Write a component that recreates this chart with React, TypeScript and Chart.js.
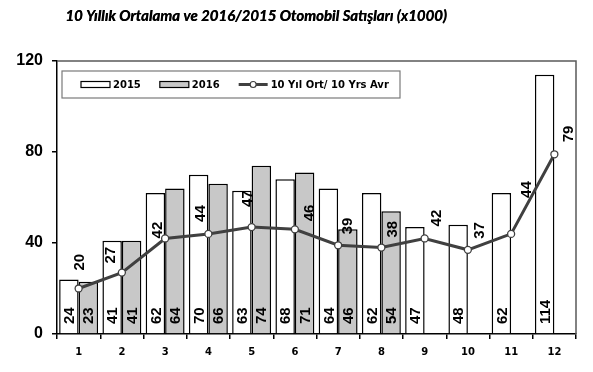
import React, { useEffect, useRef } from 'react';
import { Chart, registerables } from 'chart.js';

Chart.register(...registerables);

const TITLE = '10 Yıllık Ortalama ve 2016/2015 Otomobil Satışları (x1000)';
const months = ['1', '2', '3', '4', '5', '6', '7', '8', '9', '10', '11', '12'];
const sales2015 = [24, 41, 62, 70, 63, 68, 64, 62, 47, 48, 62, 114];
const sales2016: (number | null)[] = [23, 41, 64, 66, 74, 71, 46, 54, null, null, null, null];
const avg10 = [20, 27, 42, 44, 47, 46, 39, 38, 42, 37, 44, 79];
const yTickValues = [0, 40, 80, 120];
const LABEL_2015 = '2015';
const LABEL_2016 = '2016';
const LABEL_AVG = '10 Yıl Ort/ 10 Yrs Avr';

// label placement offsets (style only) for the average-line values
const avgLabelDx = [0, -12, -8, -9, -5, 14, 9, 10, 11, 11, 15, 13];
const avgLabelDy = [-18, -9, 0, -12, -20, -8, -11, -10, -12, -11, -36, -12];

const LINE_COLOR = '#404040';
const GRAY_FILL = '#c8c8c8';

const decorPlugin = {
  id: 'decor',
  beforeDatasetsDraw(chart: any) {
    const { ctx, chartArea } = chart;
    ctx.save();
    ctx.strokeStyle = '#5a5a5a';
    ctx.lineWidth = 1.5;
    ctx.beginPath();
    ctx.moveTo(chartArea.left, chartArea.top);
    ctx.lineTo(chartArea.right, chartArea.top);
    ctx.lineTo(chartArea.right, chartArea.bottom);
    ctx.stroke();
    ctx.restore();
  },
  afterDatasetsDraw(chart: any) {
    const { ctx, chartArea } = chart;
    ctx.save();
    ctx.fillStyle = '#000';
    ctx.font = 'bold 15px "Liberation Sans", Arial, sans-serif';
    ctx.textBaseline = 'middle';
    ctx.textAlign = 'left';
    // bar labels
    [0, 1].forEach((di) => {
      const meta = chart.getDatasetMeta(di);
      const data = chart.data.datasets[di].data;
      meta.data.forEach((el: any, i: number) => {
        const v = data[i];
        if (v === null || v === undefined) return;
        ctx.save();
        ctx.translate(el.x, chartArea.bottom - 10);
        ctx.rotate(-Math.PI / 2);
        ctx.fillText(String(v), 0, 1);
        ctx.restore();
      });
    });
    // line labels
    const lmeta = chart.getDatasetMeta(2);
    lmeta.data.forEach((pt: any, i: number) => {
      ctx.save();
      ctx.translate(pt.x + avgLabelDx[i], pt.y + avgLabelDy[i]);
      ctx.rotate(-Math.PI / 2);
      ctx.fillText(String(avg10[i]), 0, 1);
      ctx.restore();
    });
    ctx.restore();
  },
  afterDraw(chart: any) {
    const { ctx, chartArea } = chart;
    ctx.save();
    // title
    ctx.fillStyle = '#000';
    ctx.font = 'italic bold 15px Lato, "Open Sans", sans-serif';
    ctx.textAlign = 'center';
    ctx.textBaseline = 'middle';
    ctx.fillText(TITLE, 256, 16);
    ctx.fillText(TITLE, 256.4, 16);

    // legend box
    const bx = chartArea.left + 5;
    const by = chartArea.top + 10;
    const bw = 338;
    const bh = 27;
    ctx.fillStyle = '#fff';
    ctx.fillRect(bx, by, bw, bh);
    ctx.strokeStyle = '#7a7a7a';
    ctx.lineWidth = 1.2;
    ctx.strokeRect(bx, by, bw, bh);

    ctx.font = 'bold 10px "DejaVu Sans", Verdana, sans-serif';
    ctx.textAlign = 'left';
    ctx.textBaseline = 'middle';
    const cy = by + bh / 2;
    let x = bx + 19;
    const items = chart.data.datasets.map((d: any) => d);
    items.forEach((ds: any, idx: number) => {
      if (idx < 2) {
        ctx.fillStyle = ds.backgroundColor;
        ctx.fillRect(x, cy - 3, 29, 6);
        ctx.strokeStyle = '#000';
        ctx.lineWidth = 1.2;
        ctx.strokeRect(x, cy - 3, 29, 6);
      } else {
        ctx.strokeStyle = LINE_COLOR;
        ctx.lineWidth = 3;
        ctx.beginPath();
        ctx.moveTo(x, cy);
        ctx.lineTo(x + 29, cy);
        ctx.stroke();
        ctx.beginPath();
        ctx.arc(x + 14.5, cy, 3, 0, Math.PI * 2);
        ctx.fillStyle = '#fff';
        ctx.fill();
        ctx.lineWidth = 1.2;
        ctx.stroke();
      }
      ctx.fillStyle = '#000';
      ctx.fillText(ds.label, x + 32, cy + 0.5);
      x += 32 + ctx.measureText(ds.label).width + 19;
    });
    ctx.restore();
  },
};

export default function App() {
  const ref = useRef<HTMLCanvasElement | null>(null);
  useEffect(() => {
    if (!ref.current) return;
    const chart = new Chart(ref.current, {
      type: 'bar',
      data: {
        labels: months,
        datasets: [
          {
            type: 'bar',
            label: LABEL_2015,
            data: sales2015,
            backgroundColor: '#ffffff',
            borderColor: '#000000',
            borderWidth: 1.5,
            categoryPercentage: 0.9,
            barPercentage: 1.0,
            order: 1,
          },
          {
            type: 'bar',
            label: LABEL_2016,
            data: sales2016,
            backgroundColor: GRAY_FILL,
            borderColor: '#000000',
            borderWidth: 1.5,
            categoryPercentage: 0.9,
            barPercentage: 1.0,
            order: 1,
          },
          {
            type: 'line',
            label: LABEL_AVG,
            data: avg10,
            borderColor: LINE_COLOR,
            borderWidth: 3,
            pointRadius: 3.5,
            pointBackgroundColor: '#ffffff',
            pointBorderColor: LINE_COLOR,
            pointBorderWidth: 1.3,
            tension: 0,
            order: 0,
          } as any,
        ],
      },
      options: {
        animation: false,
        responsive: false,
        maintainAspectRatio: false,
        layout: { padding: { top: 61, right: 17, left: 0, bottom: 0 } },
        plugins: {
          legend: { display: false },
          tooltip: { enabled: false },
          title: { display: false },
        },
        scales: {
          x: {
            offset: true,
            grid: {
              offset: true,
              drawOnChartArea: false,
              drawTicks: true,
              tickLength: 5,
              color: '#000',
              lineWidth: 1.5,
            },
            border: { display: true, color: '#000', width: 1.5 },
            ticks: {
              color: '#000',
              font: { family: '"DejaVu Sans", Verdana, sans-serif', size: 10, weight: 'bold' },
              padding: 7,
              maxRotation: 0,
            },
            afterFit(scale: any) {
              scale.height = 38;
            },
          },
          y: {
            min: 0,
            max: 120,
            afterBuildTicks(scale: any) {
              scale.ticks = yTickValues.map((v) => ({ value: v }));
            },
            grid: {
              drawOnChartArea: false,
              drawTicks: true,
              tickLength: 5,
              color: '#000',
              lineWidth: 1.5,
            },
            border: { display: true, color: '#000', width: 1.5 },
            ticks: {
              color: '#000',
              font: { family: '"Liberation Sans", Arial, sans-serif', size: 16, weight: 'bold' },
              padding: 9,
            },
            afterFit(scale: any) {
              scale.width = 57;
            },
          },
        },
      },
      plugins: [decorPlugin],
    });
    return () => chart.destroy();
  }, []);
  return (
    <div style={{ position: 'fixed', left: 0, top: 0, width: 593, height: 372, background: '#fff' }}>
      <canvas ref={ref} width={593} height={372} />
    </div>
  );
}
